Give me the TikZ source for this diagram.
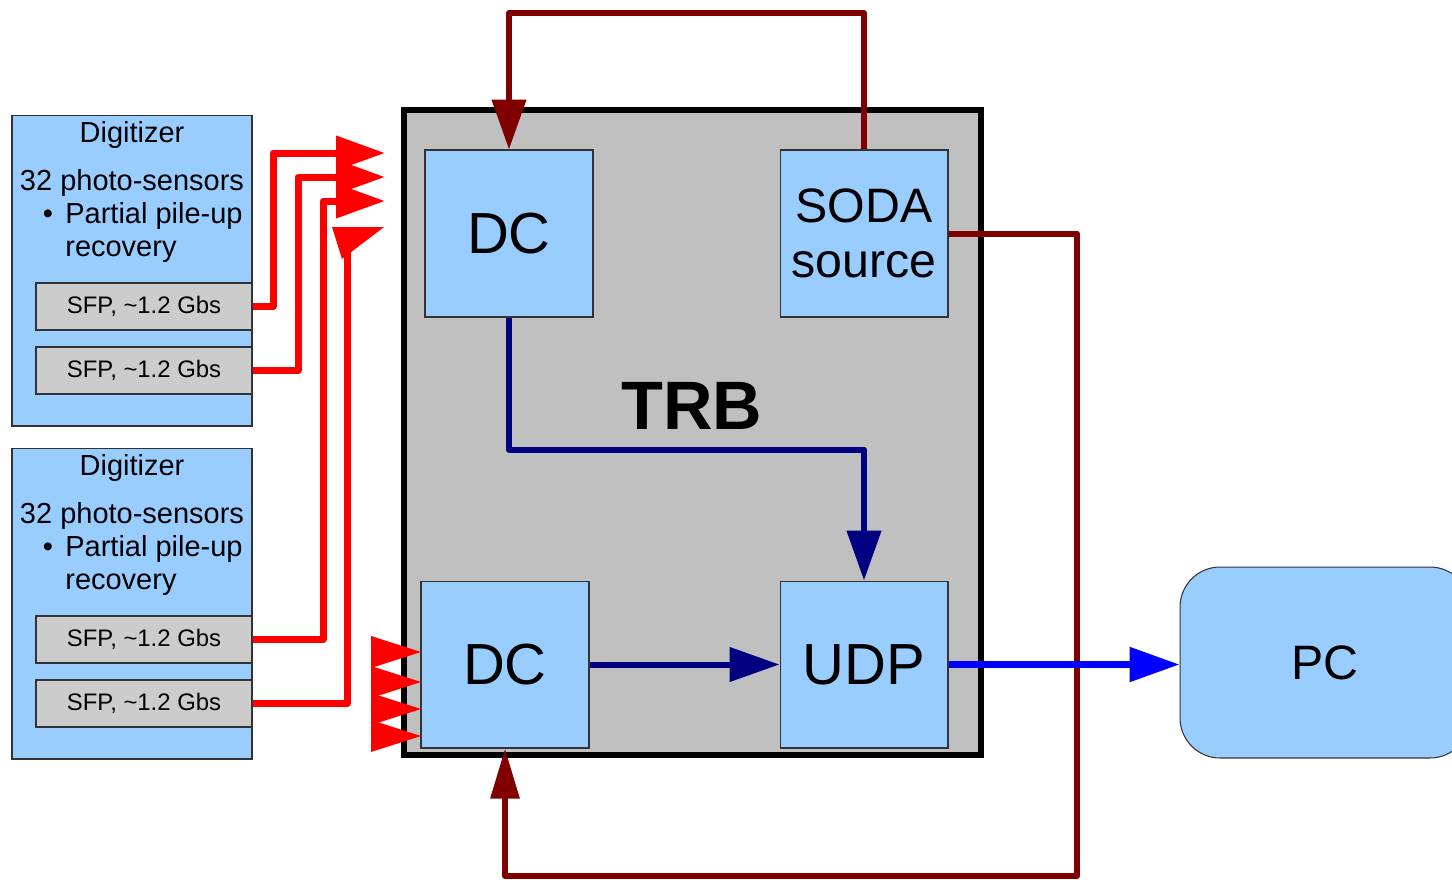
\documentclass[tikz,border=0pt]{standalone}
\usepackage{fontspec}
\setmainfont{Liberation Sans}
\usetikzlibrary{arrows.meta, positioning}
\definecolor{boxblue}{HTML}{99CCFF}
\definecolor{sfpgray}{HTML}{CCCCCC}
\definecolor{trbgray}{HTML}{C0C0C0}
\definecolor{syncred}{HTML}{800000}
\definecolor{datanavy}{HTML}{000080}
\definecolor{linkred}{HTML}{FF0000}
\definecolor{ethblue}{HTML}{0000FF}

\begin{document}
\begin{tikzpicture}[x=0.02cm, y=-0.02cm,
    digi/.style={rectangle, draw=black!80, line width=0.6pt, fill=boxblue,
                 minimum width=4.8cm, minimum height=6.22cm, inner sep=0pt},
    sfp/.style={rectangle, draw=black!80, line width=0.6pt, fill=sfpgray,
                minimum width=4.32cm, minimum height=0.94cm, inner sep=0pt,
                font=\fontsize{13.6}{16}\selectfont},
    digtext/.style={inner sep=0pt, anchor=base, font=\fontsize{16.5}{19}\selectfont},
    unit/.style={rectangle, draw=black!80, line width=0.6pt, fill=boxblue,
                 minimum width=3.36cm, minimum height=3.34cm, inner sep=0pt, align=center},
    link/.style={draw=linkred, line width=0.14cm, line join=round,
                 -{Triangle[length=0.98cm,width=0.66cm]}},
    sync/.style={draw=syncred, line width=0.12cm, line join=round},
    data/.style={draw=#1, line width=0.12cm, line join=round,
                 -{Triangle[length=1cm,width=0.67cm]}}
]
\clip (0,0) rectangle (1452,879);

\foreach \n/\dy in {A/0,B/333}{
  \node[digi] (dig\n) at (132,270.5+\dy) {};
  \node[digtext] (dig\n name) at (132,142+\dy) {Digitizer};
  \node[digtext] (dig\n count) at (132,190+\dy) {32 photo-sensors};
  \node[digtext] (dig\n dot) at (48,223+\dy) {•};
  \node[digtext, anchor=base west] (dig\n pile) at (65,223+\dy) {Partial pile-up};
  \node[digtext, anchor=base west] (dig\n rec) at (65,256+\dy) {recovery};
  \node[sfp] (sfp\n1) at (144,306.5+\dy) {SFP, \textasciitilde1.2 Gbs};
  \node[sfp] (sfp\n2) at (144,370.5+\dy) {SFP, \textasciitilde1.2 Gbs};
}

\node[rectangle, draw=black, line width=0.12cm, fill=trbgray,
      minimum width=11.54cm, minimum height=12.92cm] (trb) at (692.5,432.5) {};
\node[font=\fontsize{39}{44}\selectfont\bfseries] (trbname) at (692,406) {TRB};

\node[unit, font=\fontsize{33}{38}\selectfont] (dct) at (509,233.5) {DC};
\node[unit, font=\fontsize{27.5}{31}\selectfont] (soda) at (864,233.5) {SODA\\source};
\node[unit, font=\fontsize{33}{38}\selectfont] (dcb) at (505,664.5) {DC};
\node[unit, font=\fontsize{33}{38}\selectfont] (udp) at (864,664.5) {UDP};
\node[rectangle, rounded corners=0.8cm, draw=black!80, line width=0.6pt, fill=boxblue,
      minimum width=5.8cm, minimum height=3.82cm,
      font=\fontsize{27.5}{31}\selectfont] (pc) at (1325,662.5) {PC};

\draw[link] (sfpA1.east) -| (273,153) -- (385,153);
\draw[link] (sfpA2.east) -| (298,177) -- (385,177);
\draw[link] (sfpB1.east) -| (323,201) -- (385,201);
\draw[link, -] (sfpB2.east) -| (347,246);
\fill[linkred] (332,227) -- (384,227) -- (342,259) -- cycle;
\foreach \y in {652,682,709,736}
  \fill[linkred] (371,\y-16) -- (421,\y) -- (371,\y+16) -- cycle;

\draw[sync, -{Triangle[length=1cm,width=0.67cm]}] (soda.north) -- (864,13) -| (dct.north);
\draw[sync, -{Triangle[length=1cm,width=0.56cm]}] (soda.east) -| (1077,876) -| (dcb.south);

\draw[data=datanavy] (dct.south) -- ++(0,132) -| (udp.north);
\draw[data=datanavy] (dcb.east) -- (udp.west);
\draw[data=ethblue, line width=0.14cm] (udp.east) -- (udp.east -| pc.west);
\end{tikzpicture}
\end{document}
